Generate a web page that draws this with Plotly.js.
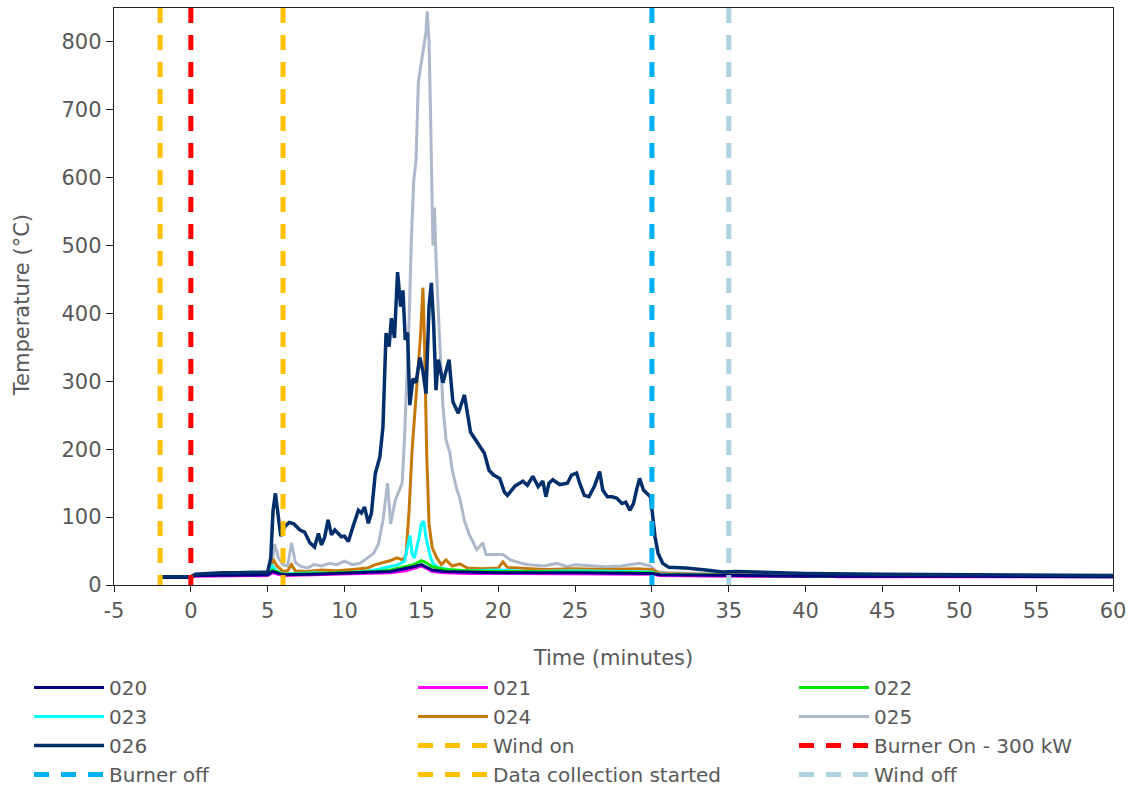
<!DOCTYPE html>
<html>
<head>
<meta charset="utf-8">
<script src="https://cdn.plot.ly/plotly-3.0.1.min.js"></script>
<style>html,body{margin:0;padding:0;background:#fff}#chart{width:1134px;height:789px}</style>
</head>
<body>
<div id="chart"></div>
<script>
// ---- data ----
var seriesNames = ['020','021','022','023','024','025','026'];

var t020 = [-2,0,0.3,5,5.3,6,8,10,12,13,14,14.5,15,15.3,15.7,16.5,18,20,25,29,30,30.5,35,40,50,60];
var v020 = [11,11,14,15,20,15,16,17,19,20,24,27,30,27,22,20,19,18,18,17,17,15,14,13,13,12];

var t021 = [-2,0,0.3,5,5.3,6,8,10,12,13,14,14.5,15,15.3,15.7,16.5,18,20,25,29,30,30.5,35,40,41,42,50,60];
var v021 = [11,11,13,14,18,14,15,16,17,18,21,24,28,25,20,18,17,17,16,16,16,14,13,13,15,12,12,12];

var t022 = [-2,0,0.3,5,5.3,6,8,10,12,13,14,14.5,15,15.3,15.7,16.5,18,20,25,29,30,30.5,35,40,50,60];
var v022 = [11,11,14,15,22,16,17,18,20,22,27,30,36,33,27,23,21,20,19,19,18,15,14,13,13,12];

var t023 = [-2,0,0.3,5,5.3,5.6,6,7,8,9,10,11,12,12.5,13,13.5,13.9,14.1,14.25,14.4,14.55,14.7,14.85,15.0,15.15,15.3,15.45,15.6,15.8,16.1,16.5,17,18,20,22,25,28,30,30.5,35,40,50,60];
var v023 = [11,11,14,15,28,20,16,17,18,17,18,19,22,25,28,30,35,60,73,45,40,55,70,90,94,70,55,40,30,26,24,22,21,22,20,21,20,19,15,14,13,13,13];

var t024 = [-2,0,0.3,5,5.2,5.35,5.6,6.0,6.3,6.55,6.8,7.5,8.5,9.5,10.5,11.5,12.0,12.5,13.0,13.4,13.8,14.0,14.2,14.4,14.6,14.8,14.95,15.1,15.2,15.35,15.5,15.7,16.0,16.3,16.6,17.0,17.5,18,19,20,20.3,20.6,21.5,23,25,27,29,30,30.5,32,35,40,50,60];
var v024 = [11,11,15,17,25,38,28,20,21,30,21,20,22,21,23,25,30,33,36,40,37,45,110,200,265,320,370,438,360,190,90,55,40,30,37,28,31,25,24,25,34,26,25,23,24,23,24,23,17,16,15,14,13,13];

var t025 = [-2,0,0.3,5,5.2,5.45,5.7,6.0,6.3,6.55,6.8,7.2,7.6,8,8.5,9,9.5,10,10.5,11,11.5,11.9,12.2,12.5,12.8,13.0,13.3,13.5,13.75,13.9,14.05,14.2,14.35,14.5,14.65,14.8,15.0,15.15,15.3,15.38,15.5,15.6,15.68,15.75,15.85,15.97,16.2,16.4,16.6,16.85,17.0,17.3,17.5,17.8,18.1,18.6,19.0,19.2,19.7,20.3,20.8,21.5,22,23,23.8,24.5,25,26,27,28,28.8,29.2,29.9,30.3,31,33,35,40,45,50,55,60];
var v025 = [12,12,16,18,20,60,40,30,28,62,33,27,25,30,28,32,30,35,30,32,40,47,60,95,150,90,125,135,150,215,300,390,510,595,625,740,770,790,815,845,800,690,580,500,556,470,355,265,214,195,170,141,128,95,75,52,62,45,45,45,37,32,30,28,32,27,30,28,27,28,30,32,28,20,18,17,16,15,14,14,13,13];

var t026 = [-2,0,0.3,1,2,3,4,5,5.2,5.35,5.5,5.65,5.85,6.1,6.4,6.7,7.1,7.4,7.75,8.05,8.3,8.5,8.7,8.93,9.15,9.37,9.6,9.8,10.0,10.25,10.55,10.9,11.1,11.3,11.55,11.75,12.0,12.3,12.5,12.7,12.9,13.05,13.25,13.45,13.65,13.8,13.95,14.1,14.25,14.45,14.65,14.9,15.1,15.3,15.5,15.65,15.8,15.95,16.1,16.4,16.8,17.05,17.4,17.8,18.2,18.5,18.8,19.1,19.4,19.7,20.1,20.4,20.6,20.8,21.1,21.4,21.6,21.9,22.25,22.6,22.9,23.1,23.3,23.55,24.0,24.5,24.77,25.1,25.3,25.6,25.9,26.25,26.6,26.8,27.1,27.4,27.7,28.05,28.3,28.56,28.8,29.0,29.2,29.45,29.65,29.9,30.03,30.2,30.4,30.7,31.1,32.2,33.5,34.6,35.5,38,40,45,50,55,60];
var v026 = [12,12,16,17,18,18,19,19,40,110,135,110,72,86,92,90,81,78,62,56,76,59,70,96,74,81,76,71,72,64,86,110,106,115,91,106,164,189,233,371,351,393,364,461,410,434,361,372,265,304,298,335,315,282,411,445,383,287,332,298,332,270,253,280,225,215,203,194,169,162,157,137,132,137,146,150,153,147,160,145,153,130,150,155,148,150,162,165,150,132,130,145,167,140,130,130,128,120,122,110,120,140,157,140,135,130,106,71,47,32,26,25,22,19,20,18,17,16,15,15,14];

var eventNames = ['Wind on','Burner On - 300 kW','Burner off','Data collection started','Wind off'];
var eventTimes = [-2, 0, 30, 6, 35];
var yMax = 850;

var xTicks = [-5,0,5,10,15,20,25,30,35,40,45,50,55,60];
var yTicks = [0,100,200,300,400,500,600,700,800];
var xTitle = 'Time (minutes)';
var yTitle = 'Temperature (°C)';

// ---- styling ----
var seriesColors = ['#000080','#FF00FF','#00E600','#00FFFF','#C8780A','#ADB9CA','#002F6C'];
var seriesWidths = [3,3,3,3,3,3,3.5];
var seriesLegend = ['legend','legend2','legend3','legend','legend2','legend3','legend'];
var eventColors = ['#FFC000','#FF0000','#00B0F0','#FFC000','#ADD3E0'];
var eventLegend = ['legend2','legend3','legend','legend2','legend3'];

var tsData = [[t020,v020],[t021,v021],[t022,v022],[t023,v023],[t024,v024],[t025,v025],[t026,v026]];
var drawOrder = [5,4,3,2,1,0,6];
var traces = [];
seriesNames.forEach(function(n,i){
  traces.push({type:'scatter',mode:'lines',name:n,x:tsData[i][0],y:tsData[i][1],
    line:{color:seriesColors[i],width:seriesWidths[i]},legend:seriesLegend[i],legendrank:i+1});
});
traces = drawOrder.map(function(k){return traces[k];});
eventNames.forEach(function(n,i){
  traces.push({type:'scatter',mode:'lines',name:n,x:[eventTimes[i],eventTimes[i]],y:[yMax,0],
    line:{color:eventColors[i],width:5,dash:'15px,12px'},legend:eventLegend[i],legendrank:20+i});
});

var font = {family:'DejaVu Sans, sans-serif',size:21,color:'#595959'};
var lfont = {family:'DejaVu Sans, sans-serif',size:20,color:'#595959'};
function leg(x){
  return {orientation:'v',xref:'container',yref:'container',x:x,y:0.1534,xanchor:'left',yanchor:'top',
    itemwidth:70,font:lfont,bgcolor:'rgba(0,0,0,0)',tracegroupgap:0,traceorder:'normal'};
}
var layout = {
  width:1134,height:789,
  margin:{l:114,r:21,t:8,b:204,autoexpand:false},
  paper_bgcolor:'#fff',plot_bgcolor:'#fff',
  font:font,
  showlegend:true,
  xaxis:{range:[-5,60],tickvals:xTicks,ticktext:xTicks.map(String),showgrid:false,zeroline:false,
    showline:true,linecolor:'#222',linewidth:1.3,mirror:true,ticks:'outside',ticklen:6,tickcolor:'#222',
    tickfont:font,title:{text:xTitle,font:font,standoff:28}},
  yaxis:{range:[0,yMax],tickvals:yTicks,ticktext:yTicks.map(String),showgrid:false,zeroline:false,
    showline:true,linecolor:'#222',linewidth:1.3,mirror:true,ticks:'outside',ticklen:7,tickcolor:'#222',
    tickfont:font,title:{text:''}},
  annotations:[{text:yTitle,textangle:-90,xref:'paper',yref:'paper',x:-0.092,y:0.485,
    xanchor:'center',yanchor:'middle',showarrow:false,font:font}],
  legend:leg(0.0256),
  legend2:leg(0.3642),
  legend3:leg(0.7002)
};
Plotly.newPlot('chart',traces,layout,{displayModeBar:false,staticPlot:true});
</script>
</body>
</html>
